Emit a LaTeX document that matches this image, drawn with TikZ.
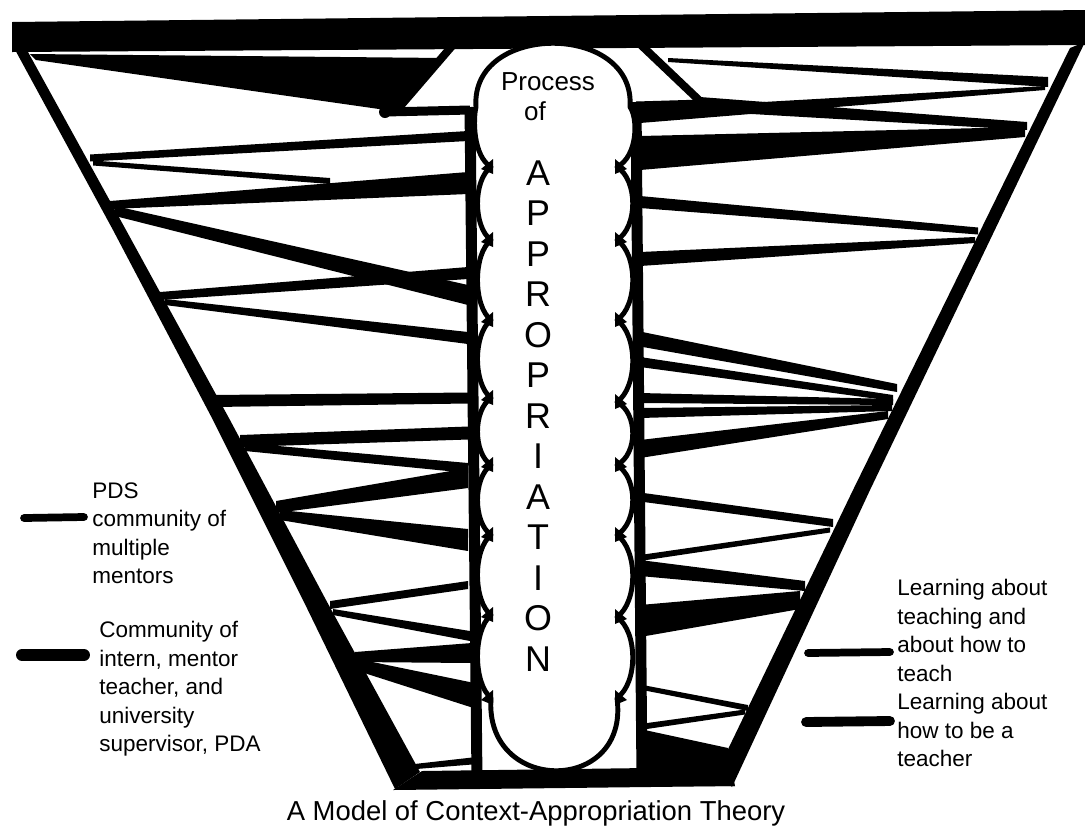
\documentclass[tikz,border=0pt]{standalone}
\usepackage{fontspec}
\setmainfont{Liberation Sans}
\usepackage{tikz}

\begin{document}
\begin{tikzpicture}[x=0.025cm,y=-0.025cm,
    cloudline/.style={draw=black,fill=white,line width=3.5pt,line join=round},
    columnline/.style={line width=7.8pt},
    capline/.style={line width=5.7pt,line cap=round},
    bigletter/.style={font=\fontsize{25.5}{25}\selectfont,inner sep=0pt,anchor=base},
    smalltext/.style={font=\fontsize{18.5}{20}\selectfont,inner sep=0pt,anchor=base},
    legendtext/.style={font=\fontsize{16}{20.3}\selectfont,align=left,anchor=north west,inner sep=0pt},
    legendline/.style={line cap=round}]
\useasboundingbox[fill=white] (0,0) rectangle (1085,825);

% left bands
\fill (30,54) -- (445,58) -- (400,112) -- (36,60) -- cycle;
\fill (90,154.5) -- (468,131) -- (468,141) -- (90,161.5) -- cycle;
\fill (93,160.5) -- (330,178) -- (330,184) -- (93,165.5) -- cycle;
\fill (110,201) -- (468,172) -- (468,194) -- (110,209) -- cycle;
\fill (115,206) -- (468,285) -- (468,305) -- (115,216) -- cycle;
\fill (160,292) -- (468,267) -- (468,279) -- (160,300) -- cycle;
\fill (165,299) -- (468,332) -- (468,344) -- (165,305) -- cycle;
\fill (213,395) -- (468,392.5) -- (468,403.5) -- (213,407) -- cycle;
\fill (213,401) circle (6);
\fill (240,435) -- (468,426.5) -- (468,439.5) -- (240,447) -- cycle;
\fill (245,443) -- (468,463) -- (468,473) -- (245,451) -- cycle;
\fill (276,501) -- (468,468) -- (468,488) -- (276,513) -- cycle;
\fill (280,510) -- (468,529) -- (468,551) -- (280,520) -- cycle;
\fill (330,601) -- (468,581) -- (468,589) -- (330,609) -- cycle;
\fill (333,609) -- (470,631) -- (470,641) -- (333,615) -- cycle;
\fill (355,652) -- (472,643) -- (472,663) -- (355,662) -- cycle;
\fill (358,659) -- (472,682.5) -- (472,707.5) -- (358,671) -- cycle;
\fill (410,764.5) -- (472,757.5) -- (472,764.5) -- (410,769.5) -- cycle;

% right bands
\fill (668,58) -- (1048,77) -- (1048,87) -- (668,62) -- cycle;
\fill (640,109) -- (1045,86) -- (1045,90) -- (640,123) -- cycle;
\fill (700,97) -- (1027,122) -- (1027,130) -- (700,111) -- cycle;
\fill (640,136) -- (1025,127) -- (1025,137) -- (640,170) -- cycle;
\fill (640,196) -- (978,227.5) -- (978,234.5) -- (640,208) -- cycle;
\fill (640,252) -- (975,237) -- (975,243) -- (640,266) -- cycle;
\fill (640,331.5) -- (897,384) -- (897,392) -- (640,346.5) -- cycle;
\fill (640,357) -- (893,395) -- (893,401) -- (640,367) -- cycle;
\fill (640,393) -- (893,399) -- (893,405) -- (640,403) -- cycle;
\fill (640,408) -- (892,405) -- (892,411) -- (640,418) -- cycle;
\fill (640,440) -- (888,411) -- (888,419) -- (640,458) -- cycle;
\fill (640,492.5) -- (833,519) -- (833,527) -- (640,501.5) -- cycle;
\fill (640,555) -- (830,527.5) -- (830,532.5) -- (640,561) -- cycle;
\fill (640,560) -- (805,581) -- (805,591) -- (640,576) -- cycle;
\fill (640,605) -- (800,591) -- (800,609) -- (640,637) -- cycle;
\fill (640,684.5) -- (748,705) -- (748,711) -- (640,689.5) -- cycle;
\fill (640,724) -- (745,709.5) -- (745,714.5) -- (640,730) -- cycle;
\fill (640,729) -- (728,748) -- (735,786) -- (640,786) -- cycle;

% cap over the column
\fill[white] (403,107) -- (447,51) -- (648,49) -- (700,101) -- (700,106) -- cycle;
\draw[capline] (397,110) -- (452,46);
\draw[capline] (641,45) -- (703,104);
\draw[line width=6.4pt] (385,112) -- (470,110);
\fill (385,112) circle (6);
\draw[line width=6.4pt] (636,106) -- (703,104);

% frame of the funnel
\fill (12,22) -- (1085,10) -- (1085,45) -- (12,52) -- cycle;
\fill (13,46) -- (113,230) -- (213,420) -- (303,600) -- (395,789)
   -- (420,772) -- (326,600) -- (230,420) -- (126,230) -- (28,52) -- cycle;
\fill (1085,42) -- (870,490) -- (732,787) -- (718,770) -- (853,490) -- (1070,48) -- cycle;
\fill (393,790) -- (735,786) -- (722,767) -- (422,771) -- cycle;

% column
\draw[columnline] (470,107) -- (477,780);
\draw[columnline] (636,102) -- (642,780);

% cloud
\draw[cloudline] (476,107) .. controls (470,22) and (636,22) .. (630,107)
  .. controls (638,118) and (638,156) .. (617,167)
  .. controls (638,180) and (638,227) .. (617,240)
  .. controls (638,254) and (638,306) .. (617,320)
  .. controls (638,335) and (638,387) .. (617,402)
  .. controls (638,413) and (638,454) .. (617,465)
  .. controls (638,478) and (638,522) .. (617,535)
  .. controls (638,550) and (638,602) .. (617,617)
  .. controls (638,632) and (638,683) .. (617,698)
  .. controls (630,795) and (484,795) .. (491,698)
  .. controls (473,683) and (473,630) .. (491,615)
  .. controls (473,601) and (473,549) .. (491,535)
  .. controls (473,522) and (473,478) .. (491,465)
  .. controls (473,453) and (473,410) .. (491,398)
  .. controls (473,384) and (473,334) .. (491,320)
  .. controls (473,306) and (473,254) .. (491,240)
  .. controls (473,227) and (473,180) .. (491,167)
  .. controls (473,156) and (473,119) .. (476,107) -- cycle;
% barbs at the cusps of the cloud
\foreach \y in {167,240,320,398,465,535,615,698}
  \fill (493,\y-8) -- (481,\y+2) -- (493,\y+7) -- cycle;
\foreach \y in {167,240,320,402,465,535,617,698}
  \fill (615,\y-8) -- (627,\y+2) -- (615,\y+7) -- cycle;

% text in the column
\node[smalltext] (processlabel) at (548,90) {Process};
\node[smalltext] (oflabel) at (535,120) {of};
\foreach \ch [count=\i from 0] in {A,P,P,R,O,P,R,I,A,T,I,O,N}
  \node[bigletter] (letter\i) at (538,{185+40.5*\i}) {\ch};

% legend
\draw[legendline,line width=5.5pt] (24,518) -- (84,517);
\draw[legendline,line width=8.5pt] (22,655) -- (84,655);
\draw[legendline,line width=5.5pt] (808,653) -- (890,652);
\draw[legendline,line width=7pt] (806,722) -- (890,721);
\node[legendtext] (pdsnote) at (92,482) {PDS\\community of\\multiple\\mentors};
\node[legendtext] (pdanote) at (99,621) {Community of\\intern, mentor\\teacher, and\\university\\supervisor, PDA};
\node[legendtext] (teachnote) at (897,579) {Learning about\\teaching and\\about how to\\teach\\Learning about\\how to be a\\teacher};

\node[font=\fontsize{19.5}{20}\selectfont,inner sep=0pt,anchor=base] (caption) at (536,820) {A Model of Context-Appropriation Theory};
\end{tikzpicture}
\end{document}
